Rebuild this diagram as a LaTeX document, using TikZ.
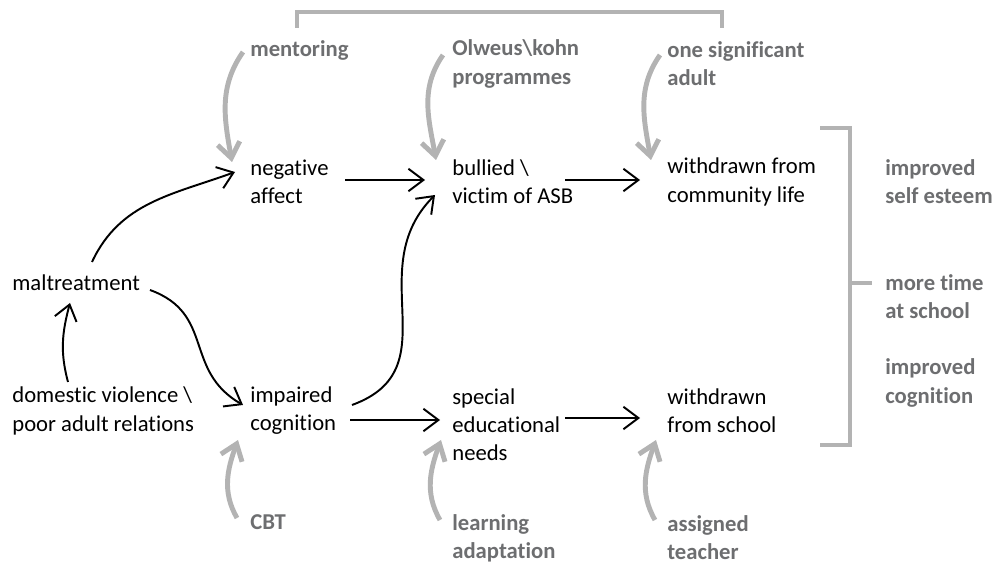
\documentclass[tikz,border=0pt]{standalone}
\usepackage{fontspec}
\setmainfont[Ligatures=NoCommon]{Carlito}
\usepackage{tikz}
\usetikzlibrary{positioning, arrows.meta, calc}
\definecolor{darkgrey}{HTML}{6D6E70}
\definecolor{lightgrey}{HTML}{B3B3B3}

\begin{document}
\begin{tikzpicture}[x=0.02cm, y=0.02cm,
  txt/.style={anchor=west, align=left, inner sep=0pt, font=\fontsize{12.9}{16}\selectfont},
  act/.style={txt, text=darkgrey, font=\fontsize{12.9}{16}\selectfont\bfseries},
  link/.style={-{Straight Barb[length=3mm,width=4.5mm]}, line width=1.1pt},
  help/.style={-{Straight Barb[length=3mm,width=4.5mm]}, line width=2.8pt, lightgrey},
  bracket/.style={line width=2.8pt, lightgrey}]
\useasboundingbox (0,0) rectangle (1001,565);
% interventions and outcomes
\node[act] (mentor) at (250,515) {mentoring};
\node[act] (olweus) at (452,501) {Olweus\textbackslash kohn\\programmes};
\node[act] (adult) at (667,501) {one significant\\adult};
\node[act] (esteem) at (885,383) {improved\\self esteem};
\node[act] (time) at (885,268) {more time\\at school};
\node[act] (cogout) at (885,182) {improved\\cognition};
\node[act] (cbt) at (250,43) {CBT};
\node[act] (learning) at (452,27) {learning\\adaptation};
\node[act] (teacher) at (667,27) {assigned\\teacher};
% chain
\node[txt] (affect) at (250,383) {negative\\affect};
\node[txt] (bullied) at (452,383) {bullied \textbackslash\\victim of ASB};
\node[txt] (community) at (667,383) {withdrawn from\\community life};
\node[txt] (maltreat) at (12,282) {maltreatment};
\node[txt] (violence) at (12,154) {domestic violence \textbackslash\\poor adult relations};
\node[txt] (cognition) at (250,154) {impaired\\cognition};
\node[txt] (sen) at (452,140) {special\\educational\\needs};
\node[txt] (school) at (667,154) {withdrawn\\from school};

\draw[link] ($(affect.west)+(95,2)$) -- ($(bullied.west)+(-27,2)$);
\draw[link] ($(bullied.west)+(113,2)$) -- ($(community.west)+(-27,2)$);
\draw[link] ($(cognition.west)+(100,-9)$) -- ($(sen.west)+(-12,5)$);
\draw[link] ($(sen.west)+(113,7)$) -- ($(school.west)+(-27,-7)$);
\draw[link] ($(maltreat.west)+(80,21)$) to[out=65,in=200] ($(affect.west)+(-15,10)$);
\draw[link] ($(maltreat.west)+(138,-7)$) to[out=-20,in=150,looseness=1.2] ($(cognition.west)+(-7,6)$);
\draw[link] ($(cognition.west)+(102,6)$) to[out=20,in=225,looseness=1.2] ($(bullied.west)+(-17,-13)$);
\draw[link] ($(violence.west)+(56,29)$) to[out=105,in=255] ($(maltreat.west)+(58,-20)$);

\draw[help] ($(mentor.west)+(-7,-2)$) to[out=235,in=100] ($(affect.west)+(-18,20)$);
\draw[help] ($(olweus.west)+(-9,9)$) to[out=235,in=100] ($(bullied.west)+(-16,22)$);
\draw[help] ($(adult.west)+(-7,9)$) to[out=235,in=100] ($(community.west)+(-16,22)$);
\draw[help] ($(cbt.west)+(-13,4)$) to[out=120,in=250] ($(cognition.west)+(-12,-29)$);
\draw[help] ($(learning.west)+(-12,18)$) to[out=120,in=250] ($(sen.west)+(-11,-15)$);
\draw[help] ($(teacher.west)+(-12,18)$) to[out=120,in=250] ($(school.west)+(-11,-29)$);

\draw[bracket] (297,537) -- (297,553) -- (722,553) -- (722,537);
\draw[bracket] (820,437) -- (850,437) -- (850,120) -- (820,120);
\draw[bracket] (850,282) -- (872,282);
\end{tikzpicture}
\end{document}
